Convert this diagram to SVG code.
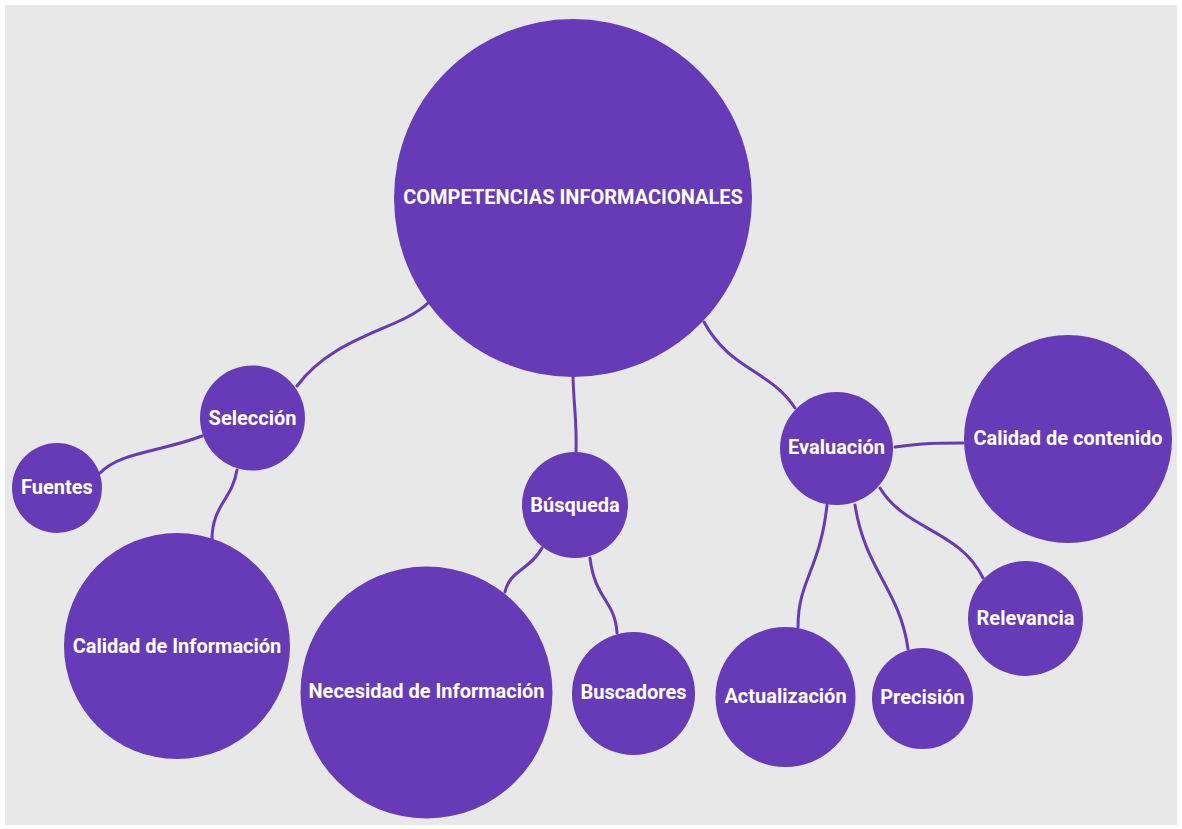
<svg xmlns="http://www.w3.org/2000/svg" width="1182" height="829" viewBox="0 0 1182 829">
<style>
.n{fill:#673ab7}
.t{fill:#ffffff;font-family:Roboto,"Liberation Sans",sans-serif;font-weight:700;font-size:20px;text-anchor:middle;dominant-baseline:central}
.c{fill:none;stroke:#673ab7;stroke-width:3;stroke-linecap:round}
</style>
<rect x="0" y="0" width="1182" height="829" fill="#ffffff"/>
<rect x="5" y="5" width="1172" height="820" fill="#e8e8e8"/>
<g id="connectors">
<path class="c" d="M428,303 C400,330 335,335 297,386"/>
<path class="c" d="M202,436 C160,452 120,452 100,473"/>
<path class="c" d="M237,470 C232,500 212,505 212,540"/>
<path class="c" d="M573,377 C574,410 577,420 576,453"/>
<path class="c" d="M542,548 C530,570 510,570 505,592"/>
<path class="c" d="M590,558 C595,600 615,600 617,633"/>
<path class="c" d="M704,322 C730,370 770,370 795,408"/>
<path class="c" d="M895,447 C925,443 935,443 963,443"/>
<path class="c" d="M827,505 C820,570 798,580 798,627"/>
<path class="c" d="M855,505 C865,570 900,590 908,649"/>
<path class="c" d="M880,488 C905,530 960,530 983,578"/>
</g>
<g id="main"><circle class="n" cx="573" cy="198" r="179"/><text class="t" x="573" y="197">COMPETENCIAS INFORMACIONALES</text></g>
<g id="seleccion"><circle class="n" cx="252.5" cy="418" r="52.5"/><text class="t" x="252.5" y="418">Selección</text></g>
<g id="fuentes"><circle class="n" cx="57" cy="488" r="45"/><text class="t" x="57" y="487">Fuentes</text></g>
<g id="calidad-informacion"><circle class="n" cx="177" cy="646" r="113"/><text class="t" x="177" y="646">Calidad de Información</text></g>
<g id="busqueda"><circle class="n" cx="575" cy="505" r="53"/><text class="t" x="575" y="505">Búsqueda</text></g>
<g id="necesidad"><circle class="n" cx="426.5" cy="692.5" r="126"/><text class="t" x="426.5" y="691">Necesidad de Información</text></g>
<g id="buscadores"><circle class="n" cx="633.5" cy="693.5" r="61.5"/><text class="t" x="633.5" y="692">Buscadores</text></g>
<g id="evaluacion"><circle class="n" cx="836.5" cy="448.5" r="56.5"/><text class="t" x="836.5" y="447">Evaluación</text></g>
<g id="calidad-contenido"><circle class="n" cx="1068" cy="439" r="104"/><text class="t" x="1068" y="438">Calidad de contenido</text></g>
<g id="actualizacion"><circle class="n" cx="785.5" cy="697" r="70"/><text class="t" x="785.5" y="696">Actualización</text></g>
<g id="precision"><circle class="n" cx="922.5" cy="698.5" r="50.5"/><text class="t" x="922.5" y="697">Precisión</text></g>
<g id="relevancia"><circle class="n" cx="1025.5" cy="618.5" r="57.5"/><text class="t" x="1025.5" y="618">Relevancia</text></g>
</svg>
